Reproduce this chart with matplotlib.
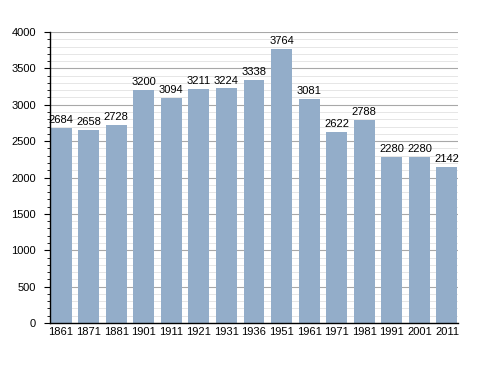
import matplotlib
matplotlib.use("Agg")
import matplotlib.pyplot as plt
from matplotlib.ticker import MultipleLocator

years = ["1861", "1871", "1881", "1901", "1911", "1921", "1931", "1936",
         "1951", "1961", "1971", "1981", "1991", "2001", "2011"]
population = [2684, 2658, 2728, 3200, 3094, 3211, 3224, 3338,
              3764, 3081, 2622, 2788, 2280, 2280, 2142]

plt.rcParams['font.family'] = ['Liberation Sans', 'DejaVu Sans']
fig = plt.figure(figsize=(4.88, 3.73), dpi=100)
ax = fig.add_axes([50/488, 1-323/373, 408/488, 291/373])

x = range(len(years))
ax.set_axisbelow(True)
ax.yaxis.set_major_locator(MultipleLocator(500))
ax.yaxis.set_minor_locator(MultipleLocator(100))
ax.grid(which='major', axis='y', color='#a8a8a8', linewidth=0.8)
ax.grid(which='minor', axis='y', color='#e2e2e2', linewidth=0.6)
bars = ax.bar(x, population, width=0.76, color='#93adc9')
for xi, v in zip(x, population):
    ax.text(xi, v + 40, str(v), ha='center', va='bottom', fontsize=8)

ax.set_xlim(-0.4, len(years) - 0.6)
ax.set_ylim(0, 4000)
ax.set_xticks(list(x))
ax.set_xticklabels(years, fontsize=8)
ax.tick_params(axis='x', length=0, pad=3)
ax.tick_params(axis='y', which='major', length=4, labelsize=8, pad=6)
ax.tick_params(axis='y', which='minor', length=2)
for s in ['top', 'right']:
    ax.spines[s].set_visible(False)
ax.spines['left'].set_linewidth(1)
ax.spines['bottom'].set_linewidth(1)

fig.savefig("out.png", dpi=100)
